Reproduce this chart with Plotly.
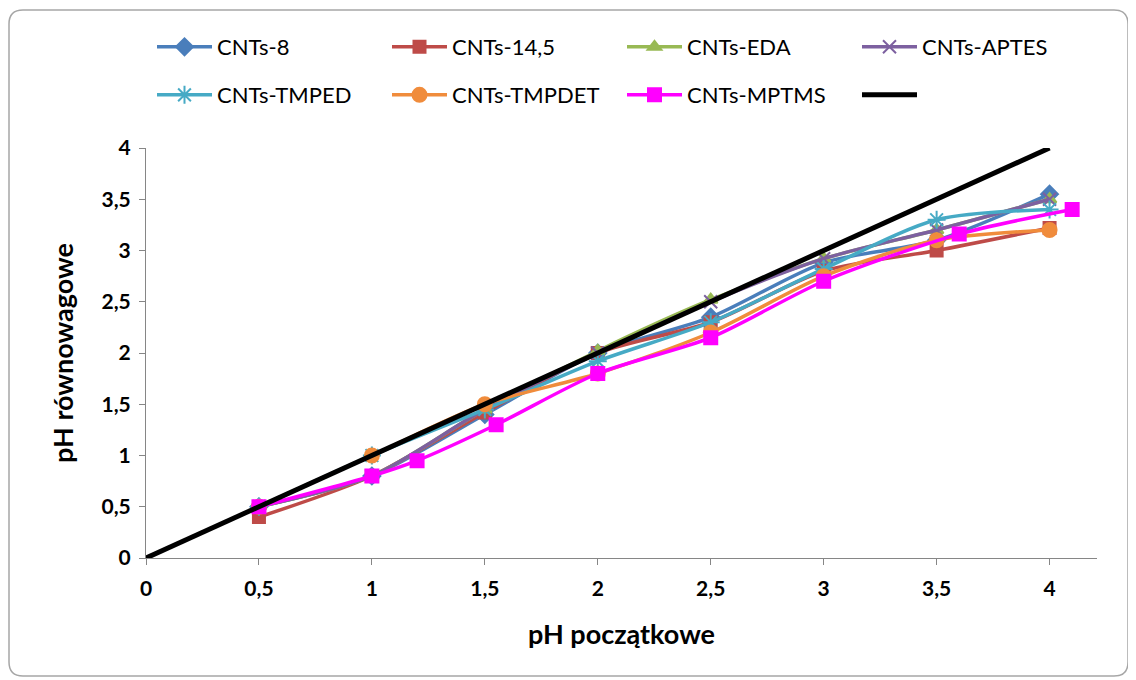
import plotly.graph_objects as go

# ---- data ----
x_std = [0.5, 1, 1.5, 2, 2.5, 3, 3.5, 4]
cnts_8 = [0.5, 0.8, 1.4, 2.0, 2.35, 2.88, 3.1, 3.55]
cnts_145 = [0.4, 0.8, 1.42, 2.0, 2.3, 2.8, 3.0, 3.22]
cnts_eda = [0.5, 0.8, 1.45, 2.02, 2.52, 2.92, 3.2, 3.5]
cnts_aptes = [0.5, 0.8, 1.45, 2.0, 2.5, 2.92, 3.2, 3.5]
cnts_tmped = [0.5, 1.0, 1.45, 1.92, 2.3, 2.82, 3.3, 3.4]
cnts_tmpdet = [0.5, 1.0, 1.5, 1.8, 2.2, 2.75, 3.1, 3.2]
x_mptms = [0.5, 1, 1.2, 1.55, 2, 2.5, 3, 3.6, 4.1]
cnts_mptms = [0.5, 0.8, 0.95, 1.3, 1.8, 2.15, 2.7, 3.16, 3.4]
x_ref = [0, 4]
y_ref = [0, 4]

names = ["CNTs-8", "CNTs-14,5", "CNTs-EDA", "CNTs-APTES",
         "CNTs-TMPED", "CNTs-TMPDET", "CNTs-MPTMS"]
colors = ["#4A7EBB", "#BE4B48", "#98B954", "#7D60A0",
          "#46AAC5", "#F08C3C", "#FF00FF"]
symbols = ["diamond", "square", "triangle-up", "x-thin",
           "asterisk-open", "circle", "square"]
sizes = [13, 12, 12, 13, 15, 14, 13]

fig = go.Figure()
series = [(x_std, cnts_8), (x_std, cnts_145), (x_std, cnts_eda), (x_std, cnts_aptes),
          (x_std, cnts_tmped), (x_std, cnts_tmpdet), (x_mptms, cnts_mptms)]
for i, ((xs, ys), n, c, s, sz) in enumerate(zip(series, names, colors, symbols, sizes)):
    fig.add_trace(go.Scatter(
        x=xs, y=ys, name=n, mode="lines+markers",
        legend="legend" if i < 4 else "legend2",
        line=dict(color=c, width=3.5, shape="spline", smoothing=0.8),
        marker=dict(symbol=s, size=sz, color=c,
                    line=dict(color=c, width=2)),
    ))
fig.add_trace(go.Scatter(x=x_ref, y=y_ref, name=" ", mode="lines", legend="legend2",
                         line=dict(color="black", width=5)))

# page body has an 8px margin: figure starts at (8, 8) on screen
OFF = 8
W, H = 1136 - OFF, 680 - OFF
ml, mt = 146 - OFF, 148 - OFF
mr = W - (1097 - OFF)
mb = H - (558 - OFF)
pw, ph = W - ml - mr, H - mt - mb

def px(xp):
    return (xp - OFF - ml) / pw

def py(yp):
    return (H - mb - (yp - OFF)) / ph

# rounded border (screen coords)
x0, x1, y0, y1, r = 9, 1128, 10, 676, 14
path = (f"M {px(x0 + r)},{py(y0)} L {px(x1 - r)},{py(y0)} "
        f"Q {px(x1)},{py(y0)} {px(x1)},{py(y0 + r)} "
        f"L {px(x1)},{py(y1 - r)} Q {px(x1)},{py(y1)} {px(x1 - r)},{py(y1)} "
        f"L {px(x0 + r)},{py(y1)} Q {px(x0)},{py(y1)} {px(x0)},{py(y1 - r)} "
        f"L {px(x0)},{py(y0 + r)} Q {px(x0)},{py(y0)} {px(x0 + r)},{py(y0)} Z")

FONT = "Lato, Open Sans, sans-serif"
ticks = [0, 0.5, 1, 1.5, 2, 2.5, 3, 3.5, 4]
ticklab = ["0", "0,5", "1", "1,5", "2", "2,5", "3", "3,5", "4"]

leg_common = dict(orientation="h", xanchor="left", yanchor="middle",
                  entrywidth=165, entrywidthmode="pixels",
                  font=dict(size=22, family=FONT),
                  itemwidth=55, bgcolor="rgba(0,0,0,0)")

fig.update_layout(
    width=W, height=H,
    margin=dict(l=ml, r=mr, t=mt, b=mb),
    paper_bgcolor="white", plot_bgcolor="white",
    font=dict(family=FONT, color="black"),
    shapes=[dict(type="path", xref="paper", yref="paper", path=path,
                 line=dict(color="#A6A6A6", width=1.5), layer="below")],
    legend=dict(x=px(152), y=py(47), **leg_common),
    legend2=dict(x=px(152), y=py(95), **leg_common),
    xaxis=dict(range=[0, 4.21], tickmode="array", tickvals=ticks, ticktext=ticklab,
               showgrid=False, zeroline=False, showline=True,
               linecolor="#868686", linewidth=1,
               ticks="outside", ticklen=6, tickcolor="#868686",
               ticklabelstandoff=6,
               tickfont=dict(size=21, family=FONT, weight="bold"),
               title=dict(text="<b>pH początkowe</b>", font=dict(size=27), standoff=25)),
    yaxis=dict(range=[0, 4], tickmode="array", tickvals=ticks, ticktext=ticklab,
               showgrid=False, zeroline=False, showline=True,
               linecolor="#868686", linewidth=1,
               ticks="outside", ticklen=6, tickcolor="#868686",
               ticklabelstandoff=4,
               tickfont=dict(size=21, family=FONT, weight="bold"),
               title=dict(text="<b>pH równowagowe</b>", font=dict(size=27), standoff=20)),
)

fig.write_html("out.html")
